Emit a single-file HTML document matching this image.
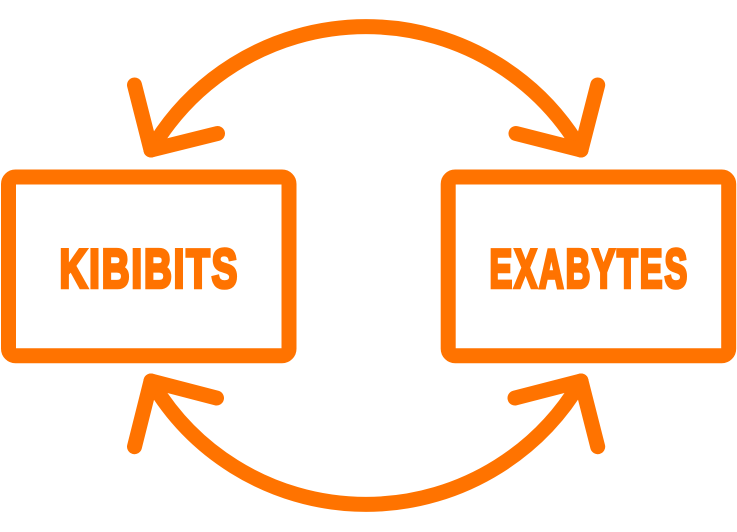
<!DOCTYPE html>
<html>
<head>
<meta charset="utf-8">
<style>
html,body{margin:0;padding:0;background:#fff;width:737px;height:532px;overflow:hidden}
svg{display:block}
text{font-family:"Liberation Sans",sans-serif;font-weight:700;font-size:55px;fill:#ff7300;stroke:#ff7300;stroke-width:3.6px;stroke-linejoin:miter}
</style>
</head>
<body>
<svg width="737" height="532" viewBox="0 0 737 532" xmlns="http://www.w3.org/2000/svg">
<g fill="none" stroke="#ff7300" stroke-width="15" stroke-linecap="round" stroke-linejoin="round">
<rect x="8.5" y="177" width="280.5" height="178.8" rx="7" ry="7"/>
<rect x="448.2" y="177" width="280.5" height="178.8" rx="7" ry="7"/>
<path d="M151 150A249 249 0 0 1 581 150"/>
<path d="M134.5 85L151 150L217.5 133.5"/>
<path d="M516 133.5L581 150L597.7 85"/>
<path d="M151 381A249 249 0 0 0 581 381"/>
<path d="M134.5 446.7L151 381L216.5 398"/>
<path d="M515 398L581 381L597.7 446.7"/>
</g>
<text transform="translate(59.5 287.4) scale(.7 1)" x="0" y="0" textLength="254" lengthAdjust="spacing">KIBIBITS</text>
<text transform="translate(489.5 287.4) scale(.62 1)" x="0" y="0" textLength="319" lengthAdjust="spacing">EXABYTES</text>
</svg>
</body>
</html>
